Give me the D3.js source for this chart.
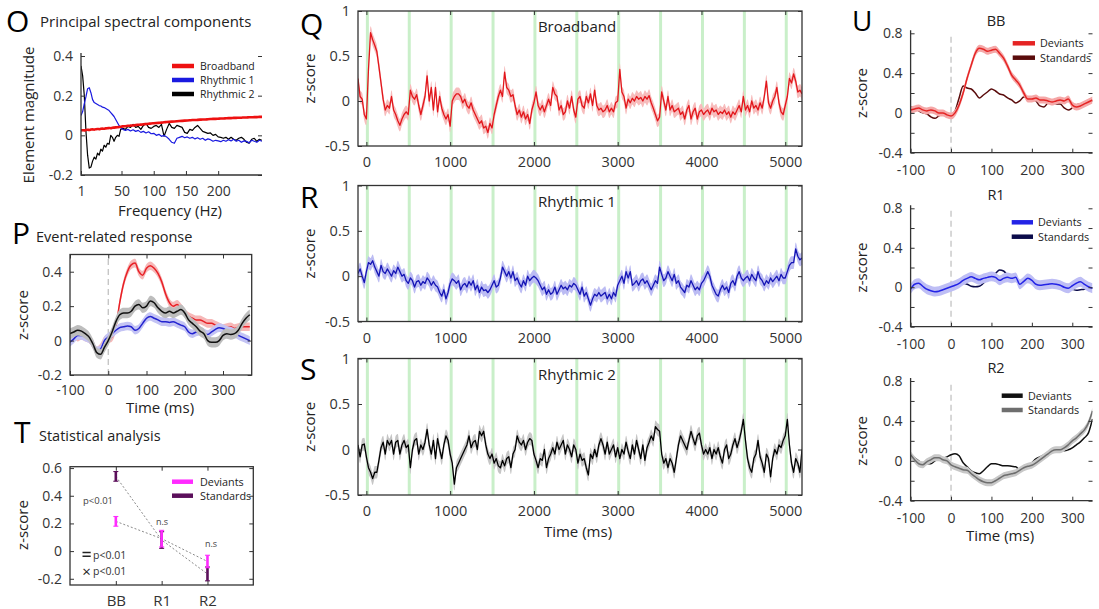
<!DOCTYPE html>
<html>
<head>
<meta charset="UTF-8">
<title>Principal spectral components</title>
<style>
  body { margin: 0; background: #fff; }
  svg { display: block; font-family: "Open Sans", sans-serif; }
</style>
</head>
<body>
<svg id="fig" width="1099" height="609"></svg>
<script src="https://d3js.org/d3.v7.min.js"></script>
<script>
// ---------- data ----------

// O: spectral weights of the three components
const freqs = d3.range(1, 50, 2).concat(d3.range(52, 269, 4));
const pcBroadband = [
  0.025,0.026,0.025,0.027,0.028,0.027,0.029,0.03,0.029,0.031,0.032,0.031,0.033,0.034,0.033,0.035,0.036,0.037,0.036,0.038,0.039,0.04,0.041,0.042,0.043,
  0.045,0.046,0.048,0.049,0.05,0.052,0.053,0.054,0.056,0.057,0.058,0.06,0.061,0.062,0.063,0.064,0.066,0.067,0.068,0.069,
  0.07,0.071,0.072,0.073,0.074,0.075,0.076,0.077,0.077,0.078,0.079,0.08,0.08,0.081,0.082,0.083,0.083,0.084,0.085,0.085,
  0.086,0.087,0.087,0.088,0.088,0.089,0.089,0.09,0.09,0.091,0.091,0.092,0.092,0.093,0.093];
const pcRhythmic1 = [
  0.10,0.12,0.16,0.195,0.235,0.24,0.215,0.18,0.165,0.16,0.155,0.15,0.148,0.142,0.14,0.135,0.13,0.125,0.115,0.105,0.095,0.08,0.065,0.05,0.038,
  0.03,0.025,0.03,0.022,0.028,0.02,0.025,0.015,0.02,0.012,0.018,0.008,0.01,0.0,0.005,-0.005,0.0,-0.008,-0.02,-0.035,
  -0.04,-0.015,-0.01,-0.005,-0.012,-0.008,-0.015,-0.01,-0.018,-0.012,-0.02,-0.015,-0.025,-0.018,-0.022,-0.03,-0.025,-0.028,-0.032,-0.025,
  -0.03,-0.022,-0.028,-0.02,-0.03,-0.025,-0.035,-0.028,-0.03,-0.038,-0.025,-0.03,-0.035,-0.025,-0.03];
const pcRhythmic2 = [
  0.35,0.3,0.2,0.02,-0.1,-0.165,-0.16,-0.13,-0.11,-0.12,-0.09,-0.1,-0.07,-0.08,-0.05,-0.06,-0.04,-0.045,0.0,-0.01,-0.03,-0.01,0.0,-0.005,0.03,
  0.035,0.03,0.045,0.04,0.055,0.04,0.045,0.03,0.05,0.06,0.04,0.035,0.045,0.05,0.04,0.055,-0.005,0.03,0.06,0.04,
  0.035,0.05,0.045,0.04,0.015,0.01,0.03,0.025,0.04,0.05,0.035,0.02,0.015,0.01,0.012,0.0,0.005,-0.008,-0.01,-0.015,
  -0.01,-0.02,-0.01,-0.02,-0.025,-0.015,-0.01,-0.02,-0.035,-0.04,-0.02,-0.015,-0.03,-0.02,-0.025];
const pcNames = ["Broadband", "Rhythmic 1", "Rhythmic 2"];

// P: event-related response, 10 ms steps from -100 ms
const erpTime = d3.range(-100, 371, 10);
const erpBroadband = [
  0.03,0.04,0.02,0.03,0.02,0.01,-0.02,-0.06,-0.04,0.0,
  0.01,0.02,0.08,0.22,0.33,0.4,0.44,0.45,0.4,0.38,
  0.42,0.435,0.42,0.39,0.34,0.27,0.22,0.2,0.21,0.19,
  0.16,0.14,0.13,0.12,0.12,0.11,0.1,0.1,0.09,0.08,
  0.07,0.075,0.08,0.07,0.075,0.08,0.08,0.08];
const erpRhythmic1 = [
  -0.01,0.01,0.03,0.03,0.02,0.01,-0.02,-0.06,-0.05,0.0,
  0.02,0.04,0.06,0.075,0.08,0.085,0.08,0.06,0.07,0.1,
  0.13,0.14,0.13,0.12,0.11,0.11,0.105,0.11,0.1,0.09,
  0.08,0.05,0.04,0.05,0.055,0.045,0.035,0.05,0.065,0.075,
  0.07,0.06,0.055,0.045,0.03,0.02,0.01,0.0];
const erpRhythmic2 = [
  0.04,0.05,0.06,0.055,0.04,0.02,-0.02,-0.07,-0.08,-0.04,
  0.0,0.05,0.11,0.15,0.16,0.16,0.17,0.2,0.21,0.19,
  0.2,0.23,0.22,0.19,0.17,0.16,0.17,0.16,0.17,0.18,
  0.16,0.12,0.1,0.08,0.055,0.04,0.0,-0.01,-0.01,0.0,
  0.03,0.04,0.035,0.04,0.06,0.1,0.13,0.15];

// T: statistical analysis
const compNames = ["BB", "R1", "R2"];
const devMean = [0.215, 0.09, -0.075];
const devErr = [0.035, 0.06, 0.045];
const stdMean = [0.54, 0.08, -0.165];
const stdErr = [0.035, 0.06, 0.05];

// Q, R, S: single trial time courses, 25 ms steps from -100 ms
const trialStart = -100, trialStep = 25;
const trialBroadband = [
  0.25,0.05,0.02,-0.15,-0.2,0.35,0.76,0.68,0.62,0.55,
  0.38,0.2,0.02,-0.1,-0.05,-0.08,0.05,-0.1,-0.15,-0.22,
  -0.27,-0.2,-0.15,-0.12,-0.15,0.12,0.05,0.02,0.07,-0.05,
  -0.15,-0.05,0.05,0.28,0.0,0.15,-0.1,0.15,-0.12,0.05,
  -0.08,-0.15,-0.2,-0.15,-0.28,0.0,0.05,0.08,0.08,0.05,
  -0.02,0.02,-0.05,-0.08,-0.02,-0.1,-0.15,-0.2,-0.25,-0.22,
  -0.3,-0.28,-0.35,-0.25,-0.3,-0.15,-0.05,0.05,0.12,0.05,
  0.32,0.15,0.12,0.05,0.07,-0.05,-0.15,-0.1,-0.18,-0.12,
  -0.2,-0.15,-0.25,-0.1,-0.02,0.1,-0.05,-0.1,-0.05,-0.12,
  -0.05,0.02,-0.05,0.15,0.08,0.05,-0.1,-0.05,-0.15,-0.12,
  0.0,-0.08,0.05,-0.1,-0.18,0.02,0.05,-0.05,-0.08,0.05,
  -0.02,0.08,-0.05,0.12,-0.05,-0.1,-0.08,-0.12,-0.1,-0.05,
  -0.12,-0.08,-0.12,-0.02,0.0,0.35,0.1,0.05,-0.08,0.02,
  -0.02,0.03,0.0,0.05,0.02,0.04,0.0,0.05,0.02,0.06,
  -0.02,-0.08,-0.15,-0.22,-0.18,0.1,0.0,-0.1,0.05,-0.1,
  -0.05,-0.12,-0.1,-0.08,-0.15,-0.12,-0.2,-0.1,-0.05,-0.2,
  -0.12,-0.08,-0.2,-0.12,-0.1,-0.15,-0.12,-0.1,-0.15,-0.08,
  -0.12,-0.1,-0.15,-0.12,-0.14,-0.1,-0.15,-0.12,-0.18,-0.12,
  -0.15,-0.1,-0.05,-0.12,0.05,-0.1,-0.05,-0.12,0.0,-0.08,
  -0.05,-0.1,-0.02,-0.08,0.05,0.22,-0.02,-0.08,0.0,0.05,
  0.15,-0.02,-0.12,-0.15,-0.05,0.05,0.25,0.2,0.3,0.22,
  0.1,0.12,0.08];
const trialRhythmic1 = [
  0.03,0.08,0.0,-0.07,0.05,0.15,0.13,0.17,0.1,0.05,
  0.0,0.12,0.05,0.03,0.08,0.04,0.0,0.06,0.03,0.1,
  0.05,0.0,0.02,-0.05,-0.08,-0.02,-0.05,-0.12,-0.06,-0.05,
  -0.1,-0.06,-0.08,-0.02,-0.05,-0.1,-0.06,-0.1,-0.12,-0.18,
  -0.22,-0.15,-0.25,-0.18,-0.08,-0.03,-0.05,-0.08,-0.05,-0.15,
  -0.1,-0.08,-0.12,-0.06,-0.1,-0.05,-0.15,-0.1,-0.18,-0.12,
  -0.16,-0.15,-0.18,-0.15,-0.1,-0.05,-0.12,-0.1,-0.02,0.1,
  0.05,0.0,0.05,-0.02,0.05,-0.05,-0.02,-0.08,-0.12,-0.05,
  -0.1,0.0,-0.05,-0.02,0.0,-0.02,-0.05,-0.1,-0.15,-0.12,
  -0.2,-0.15,-0.2,-0.18,-0.12,-0.2,-0.15,-0.1,-0.14,-0.12,
  -0.15,-0.1,-0.12,-0.08,-0.1,-0.15,-0.2,-0.12,-0.22,-0.18,
  -0.25,-0.32,-0.25,-0.2,-0.22,-0.18,-0.22,-0.2,-0.18,-0.25,
  -0.2,-0.25,-0.18,-0.22,-0.1,-0.05,0.0,-0.08,0.05,-0.02,
  0.05,-0.1,-0.08,-0.05,-0.1,-0.05,-0.03,-0.08,-0.05,-0.1,
  -0.15,-0.1,-0.05,-0.08,0.1,0.02,-0.05,-0.02,0.05,0.0,
  -0.05,0.02,-0.08,-0.05,-0.12,-0.15,-0.18,-0.1,-0.12,-0.05,
  -0.1,-0.15,-0.12,-0.15,-0.08,-0.05,0.0,0.05,0.0,-0.1,
  -0.15,-0.2,-0.22,-0.15,-0.1,-0.15,-0.12,-0.18,-0.08,-0.05,
  -0.1,0.0,0.05,-0.02,-0.05,-0.02,0.0,-0.05,0.02,-0.02,
  -0.05,0.05,-0.02,-0.05,-0.1,-0.05,-0.08,-0.02,-0.06,-0.03,
  0.0,-0.05,0.02,-0.02,-0.02,0.05,0.12,0.15,0.15,0.3,
  0.22,0.18,0.2];
const trialRhythmic2 = [
  0.05,-0.08,0.05,0.06,-0.08,-0.2,-0.25,-0.32,-0.25,-0.25,
  -0.12,0.02,0.08,-0.05,0.1,0.05,0.1,-0.05,0.08,0.1,
  -0.05,0.05,0.1,0.02,0.05,-0.2,0.0,0.1,0.12,-0.05,
  0.05,0.0,0.08,0.22,0.05,-0.05,0.1,-0.1,0.12,0.0,
  -0.1,0.05,0.15,0.1,-0.05,-0.15,-0.38,-0.2,-0.15,-0.1,
  -0.05,0.0,0.05,0.15,0.02,0.08,0.1,0.0,0.2,0.15,
  0.2,0.05,-0.05,-0.1,-0.05,-0.15,-0.1,-0.18,-0.2,-0.12,
  -0.18,-0.1,-0.08,-0.2,-0.05,0.0,0.15,0.08,0.05,0.1,
  0.0,0.08,0.12,0.1,-0.05,-0.12,-0.2,-0.1,-0.12,0.0,
  -0.2,-0.1,-0.05,0.02,-0.05,0.08,0.0,0.05,0.1,-0.05,
  0.05,0.0,-0.08,0.05,0.0,-0.15,-0.05,-0.12,-0.1,-0.2,
  -0.28,-0.05,-0.1,0.0,-0.08,0.05,0.12,0.05,-0.05,0.08,
  -0.05,0.0,0.05,-0.08,0.02,-0.1,0.0,-0.05,0.08,-0.02,
  -0.1,0.05,-0.05,0.1,0.0,-0.1,0.05,-0.12,0.02,0.08,
  0.15,0.1,0.25,0.22,0.2,-0.05,-0.15,-0.1,-0.2,-0.1,
  -0.15,-0.25,-0.1,0.05,0.15,0.1,0.05,0.0,0.1,0.2,
  0.12,0.05,0.15,0.18,0.05,-0.05,0.0,-0.05,0.02,-0.1,
  0.0,-0.05,0.02,-0.08,-0.15,0.0,0.05,-0.1,-0.05,0.05,
  0.12,0.02,0.1,0.2,0.33,0.1,-0.1,-0.2,-0.25,-0.1,
  -0.05,0.1,-0.08,-0.15,-0.25,-0.05,-0.1,-0.3,-0.1,0.0,
  -0.05,0.05,0.02,0.1,0.15,0.33,0.05,-0.15,-0.25,-0.1,
  -0.15,-0.25,0.0];
const toneOnsets = d3.range(0, 5001, 500);

// U: deviants vs standards, 10 ms steps from -100 ms
const condTime = d3.range(-100, 351, 10);
const bbDeviants = [
  0.03,0.04,0.05,0.03,0.02,0.03,0.02,0.0,0.0,-0.02,
  -0.03,0.0,0.08,0.2,0.35,0.48,0.6,0.65,0.64,0.62,
  0.63,0.64,0.6,0.55,0.47,0.38,0.33,0.28,0.2,0.14,
  0.14,0.15,0.13,0.13,0.12,0.11,0.12,0.13,0.12,0.14,
  0.08,0.06,0.07,0.09,0.11,0.13];
const bbStandards = [
  0.06,0.05,0.02,0.0,-0.01,-0.04,-0.055,-0.03,-0.01,-0.02,
  -0.02,0.02,0.15,0.27,0.25,0.24,0.2,0.15,0.18,0.21,
  0.24,0.22,0.19,0.18,0.15,0.13,0.1,0.12,0.16,0.15,
  0.14,0.12,0.07,0.06,0.1,0.11,0.09,0.09,0.05,0.03,
  0.05,0.08,0.09,0.1,0.11,0.12];
const r1Deviants = [
  -0.02,0.03,0.04,0.01,-0.02,-0.035,-0.045,-0.04,-0.025,-0.01,
  0.005,0.02,0.04,0.07,0.09,0.105,0.09,0.075,0.09,0.1,
  0.11,0.1,0.07,0.09,0.1,0.09,0.1,0.03,0.06,0.09,
  0.07,0.03,0.02,0.025,0.03,0.035,0.03,0.02,0.0,-0.01,
  0.015,0.04,0.055,0.03,0.005,-0.01];
const r1Standards = [
  -0.01,0.04,0.055,0.0,-0.04,-0.07,-0.075,-0.05,-0.03,-0.01,
  0.005,0.02,0.03,0.04,0.03,0.01,0.005,0.01,0.04,0.08,
  0.11,0.14,0.175,0.165,0.12,0.1,0.09,0.04,0.06,0.08,
  0.06,0.04,0.03,0.03,0.025,0.03,0.02,0.015,0.0,-0.01,
  -0.02,-0.03,-0.025,-0.02,-0.01,-0.01];
const r2Deviants = [
  0.06,0.03,0.0,-0.03,-0.03,-0.03,0.0,0.01,0.02,0.04,
  0.06,0.07,0.05,-0.02,-0.06,-0.1,-0.12,-0.13,-0.1,-0.06,
  -0.03,-0.03,-0.04,-0.05,-0.05,-0.055,-0.06,-0.09,-0.07,-0.05,
  -0.02,0.02,0.04,0.06,0.08,0.1,0.11,0.12,0.1,0.11,
  0.13,0.16,0.19,0.23,0.28,0.42];
const r2Standards = [
  0.06,0.01,-0.03,-0.04,-0.01,0.01,0.03,0.03,0.01,0.0,
  -0.04,-0.06,-0.075,-0.09,-0.095,-0.13,-0.16,-0.19,-0.21,-0.22,
  -0.22,-0.2,-0.175,-0.15,-0.14,-0.13,-0.12,-0.095,-0.07,-0.055,
  -0.045,-0.02,0.01,0.04,0.07,0.1,0.11,0.11,0.13,0.16,
  0.2,0.23,0.27,0.31,0.38,0.5];
const condNames = ["Deviants", "Standards"];

// ---------- helpers ----------

const svg = d3.select("#fig");
const ink = "#333";
let clipId = 0;

function txt(s, x, y, size, opts = {}) {
  const t = svg.append("text")
    .attr("x", x).attr("y", y)
    .attr("font-size", size)
    .attr("fill", opts.fill || "#222")
    .attr("text-anchor", opts.anchor || "start")
    .text(s);
  if (opts.rotate) t.attr("transform", `rotate(-90,${x},${y})`);
  return t;
}

// axes with inward ticks, MATLAB style
function frame(x, y, o) {
  const xr = x.range(), yr = y.range();
  const L = xr[0], R = xr[xr.length - 1], B = yr[0], T = yr[yr.length - 1];
  const g = svg.append("g").attr("color", ink);
  const xf = o.xFormat || (d => String(d));
  const yl = o.yLabels || o.yTicks;

  g.append("g").attr("transform", `translate(0,${B})`)
    .call(d3.axisBottom(x).tickValues(o.xTicks).tickFormat(xf)
      .tickSizeInner(-4).tickSizeOuter(0).tickPadding(o.xPad))
    .call(a => a.select(".domain").remove())
    .attr("font-family", null)
    .selectAll("text").attr("font-size", o.xfs || o.fs).attr("fill", ink);

  g.append("g").attr("transform", `translate(${L},0)`)
    .call(d3.axisLeft(y).tickValues(o.yTicks)
      .tickFormat(d => yl.includes(d) ? String(d) : "")
      .tickSizeInner(-4).tickSizeOuter(0).tickPadding(8))
    .call(a => a.select(".domain").remove())
    .attr("font-family", null)
    .selectAll("text").attr("font-size", o.fs).attr("fill", ink);

  g.append("g").attr("transform", `translate(${R},0)`)
    .call(d3.axisRight(y).tickValues(o.yTicks).tickFormat("").tickSizeInner(-4).tickSizeOuter(0))
    .call(a => a.select(".domain").remove());

  if (!o.open) {
    g.append("g").attr("transform", `translate(0,${T})`)
      .call(d3.axisTop(x).tickValues(o.xTicks).tickFormat("").tickSizeInner(-4).tickSizeOuter(0))
      .call(a => a.select(".domain").remove());
    g.append("rect")
      .attr("x", L).attr("y", T).attr("width", R - L).attr("height", B - T)
      .attr("fill", "none").attr("stroke", ink).attr("stroke-width", 1.3);
  } else {
    g.append("path")
      .attr("d", `M${L},${T - 3}V${B}H${R}`)
      .attr("fill", "none").attr("stroke", ink).attr("stroke-width", 1.3);
  }
}

function clipFor(x, y) {
  const xr = x.range(), yr = y.range();
  const id = "clip" + (clipId++);
  svg.append("clipPath").attr("id", id)
    .append("rect")
    .attr("x", xr[0]).attr("y", yr[yr.length - 1])
    .attr("width", xr[xr.length - 1] - xr[0])
    .attr("height", yr[0] - yr[yr.length - 1]);
  return svg.append("g").attr("clip-path", `url(#${id})`);
}

function band(g, x, y, xs, vs, half, fill) {
  g.append("path")
    .datum(d3.zip(xs, vs))
    .attr("fill", fill)
    .attr("d", d3.area()
      .x(d => x(d[0]))
      .y0(d => y(d[1] - half))
      .y1(d => y(d[1] + half))
      .curve(d3.curveMonotoneX));
}

function trace(g, x, y, xs, vs, color, width, curve) {
  g.append("path")
    .datum(d3.zip(xs, vs))
    .attr("fill", "none")
    .attr("stroke", color)
    .attr("stroke-width", width)
    .attr("stroke-linejoin", "round")
    .attr("d", d3.line()
      .x(d => x(d[0]))
      .y(d => y(d[1]))
      .curve(curve || d3.curveLinear));
}

function zeroLine(g, x, y) {
  const yr = y.range();
  g.append("line")
    .attr("x1", x(0)).attr("x2", x(0))
    .attr("y1", yr[0]).attr("y2", yr[yr.length - 1])
    .attr("stroke", "#bdbdbd").attr("stroke-width", 1.2)
    .attr("stroke-dasharray", "6,4");
}

function legend(names, colors, x0, x1, tx, ys, fs) {
  names.forEach((n, i) => {
    svg.append("line")
      .attr("x1", x0).attr("x2", x1).attr("y1", ys[i]).attr("y2", ys[i])
      .attr("stroke", colors[i]).attr("stroke-width", 4.5);
    txt(n, tx, ys[i] + fs * 0.36, fs);
  });
}

// ---------- O: principal spectral components ----------

txt("O", 6, 32, 30, { fill: "#000" });
txt("Principal spectral components", 40, 27, 15);

const xO = d3.scaleLinear().domain([1, 50, 268]).range([81, 121.5, 262]);
const yO = d3.scaleLinear().domain([-0.2, 0.4]).range([175, 56]);
const gO = clipFor(xO, yO);
trace(gO, xO, yO, freqs, pcRhythmic2, "#000", 1.2);
trace(gO, xO, yO, freqs, pcRhythmic1, "#1a1ae0", 1.2);
trace(gO, xO, yO, freqs, pcBroadband, "#ee1111", 2.6, d3.curveMonotoneX);
frame(xO, yO, { xTicks: [1, 50, 100, 150, 200], yTicks: [-0.2, 0, 0.2, 0.4], fs: 14, xPad: 11, open: true });
legend(pcNames, ["#ee1111", "#1a1ae0", "#000"], 172, 194, 200, [66, 80, 94], 10.5);
txt("Element magnitude", 34, 115, 15, { anchor: "middle", rotate: true });
txt("Frequency (Hz)", 170, 216, 15, { anchor: "middle" });

// ---------- P: event-related response ----------

txt("P", 12, 244, 30, { fill: "#000" });
txt("Event-related response", 36, 242, 14.5);

const xP = d3.scaleLinear().domain([-100, 375]).range([70, 251.7]);
const yP = d3.scaleLinear().domain([-0.2, 0.5]).range([375, 254.5]);
const gP = clipFor(xP, yP);
zeroLine(gP, xP, yP);
band(gP, xP, yP, erpTime, erpBroadband, 0.025, "#f6b8b8");
trace(gP, xP, yP, erpTime, erpBroadband, "#e82026", 1.5, d3.curveMonotoneX);
band(gP, xP, yP, erpTime, erpRhythmic1, 0.025, "#c4c4f4");
trace(gP, xP, yP, erpTime, erpRhythmic1, "#2424d0", 1.5, d3.curveMonotoneX);
band(gP, xP, yP, erpTime, erpRhythmic2, 0.03, "#bdbdbd");
trace(gP, xP, yP, erpTime, erpRhythmic2, "#111", 1.5, d3.curveMonotoneX);
frame(xP, yP, { xTicks: [-100, 0, 100, 200, 300], yTicks: [-0.2, 0, 0.2, 0.4], fs: 14, xPad: 10 });
txt("z-score", 28, 315, 15, { anchor: "middle", rotate: true });
txt("Time (ms)", 160, 413, 15, { anchor: "middle" });

// ---------- T: statistical analysis ----------

txt("T", 14, 443, 30, { fill: "#000" });
txt("Statistical analysis", 39, 441, 14.5);

const xT = d3.scaleLinear().domain([0, 4]).range([70, 253.3]);
const yT = d3.scaleLinear().domain([-0.245, 0.61]).range([585, 466.7]);
const magenta = "#ff2bff", plum = "#5b0f5b";

[stdMean, devMean].forEach(m => {
  svg.append("path")
    .datum(m)
    .attr("fill", "none").attr("stroke", "#8a8a8a").attr("stroke-width", 1)
    .attr("stroke-dasharray", "2,2")
    .attr("d", d3.line().x((d, i) => xT(i + 1)).y(d => yT(d)));
});

function errBars(means, errs, color) {
  means.forEach((m, i) => {
    const cx = xT(i + 1);
    svg.append("line")
      .attr("x1", cx).attr("x2", cx)
      .attr("y1", yT(m - errs[i])).attr("y2", yT(m + errs[i]))
      .attr("stroke", color).attr("stroke-width", 2.6);
    [m - errs[i], m + errs[i]].forEach(v => {
      svg.append("line")
        .attr("x1", cx - 2.5).attr("x2", cx + 2.5)
        .attr("y1", yT(v)).attr("y2", yT(v))
        .attr("stroke", color).attr("stroke-width", 1.1);
    });
  });
}
errBars(stdMean, stdErr, plum);
errBars(devMean, devErr, magenta);

frame(xT, yT, {
  xTicks: [1, 2, 3], xFormat: d => compNames[d - 1],
  yTicks: [-0.2, 0, 0.2, 0.4, 0.6], fs: 14, xfs: 15, xPad: 10
});
legend(condNames, [magenta, plum], 172, 193, 200, [481.7, 495.7], 10.8);
txt("z-score", 28, 525, 15, { anchor: "middle", rotate: true });
txt("p<0.01", 83, 504, 9.5, { fill: "#444" });
txt("n.s", 162, 525, 9, { fill: "#444", anchor: "middle" });
txt("n.s", 211, 547, 9, { fill: "#444", anchor: "middle" });
// key: parallel lines and a cross
svg.append("path")
  .attr("d", "M82.5,552.6H90.7M82.5,556.2H90.7")
  .attr("stroke", "#222").attr("stroke-width", 1.5);
txt("p<0.01", 93, 558.5, 10.5, { fill: "#333" });
txt("\u00d7", 86.5, 576.5, 15, { anchor: "middle", fill: "#222" });
txt("p<0.01", 93, 575, 10.5, { fill: "#333" });

// ---------- Q, R, S: single trial responses ----------

const xQ = d3.scaleLinear().domain([-100, 5200]).range([358, 802]);
const trialPanels = [
  { letter: "Q", ly: 35, title: "Broadband", values: trialBroadband, top: 11, bottom: 146,
    line: "#e2161b", fill: "#f7bcbc", half: 0.07 },
  { letter: "R", ly: 208, title: "Rhythmic 1", values: trialRhythmic1, top: 185.5, bottom: 321.5,
    line: "#1414b4", fill: "#bcbcf3", half: 0.07 },
  { letter: "S", ly: 380, title: "Rhythmic 2", values: trialRhythmic2, top: 358.5, bottom: 495,
    line: "#000", fill: "#c6c6c6", half: 0.07 }
];

trialPanels.forEach(p => {
  const y = d3.scaleLinear().domain([-0.5, 1]).range([p.bottom, p.top]);
  const times = p.values.map((d, i) => trialStart + i * trialStep);
  const g = clipFor(xQ, y);
  g.selectAll("line.onset")
    .data(toneOnsets)
    .join("line")
    .attr("class", "onset")
    .attr("x1", d => xQ(d) + 1).attr("x2", d => xQ(d) + 1)
    .attr("y1", p.top).attr("y2", p.bottom)
    .attr("stroke", "#c9efc9").attr("stroke-width", 3);
  band(g, xQ, y, times, p.values, p.half, p.fill);
  trace(g, xQ, y, times, p.values, p.line, 1.3);
  frame(xQ, y, { xTicks: [0, 1000, 2000, 3000, 4000, 5000], yTicks: [-0.5, 0, 0.5, 1], fs: 14.5, xPad: 11 });
  txt(p.title, 577, p.top + 21, 15, { anchor: "middle" });
  txt(p.letter, 300, p.ly, 30, { fill: "#000" });
  txt("z-score", 315, (p.top + p.bottom) / 2, 15, { anchor: "middle", rotate: true });
});
txt("Time (ms)", 578, 537, 15, { anchor: "middle" });

// ---------- U: deviants vs standards ----------

txt("U", 852, 31, 28, { fill: "#000" });
const xU = d3.scaleLinear().domain([-100, 350]).range([910.6, 1092.5]);
const condPanels = [
  { title: "BB", ty: 26, top: 33.3, bottom: 152.7, dev: bbDeviants, std: bbStandards,
    devColor: "#e52424", stdColor: "#5a0c0c", fill: "#f5a8a8", half: 0.035, bandOnStd: false,
    lx: [1012.7, 1035, 1040], ly: [43.3, 57.7] },
  { title: "R1", ty: 200, top: 208.3, bottom: 326.7, dev: r1Deviants, std: r1Standards,
    devColor: "#2323e6", stdColor: "#0b0b4a", fill: "#bebef5", half: 0.05, bandOnStd: false,
    lx: [1011.7, 1033, 1038], ly: [222.3, 236.7] },
  { title: "R2", ty: 373, top: 381, bottom: 500.7, dev: r2Deviants, std: r2Standards,
    devColor: "#111", stdColor: "#6e6e6e", fill: "#c8c8c8", half: 0.035, bandOnStd: true,
    lx: [1001.7, 1022.7, 1028], ly: [395.7, 410] }
];

condPanels.forEach(p => {
  const y = d3.scaleLinear().domain([-0.4, 0.8]).range([p.bottom, p.top]);
  const g = clipFor(xU, y);
  zeroLine(g, xU, y);
  if (p.bandOnStd) {
    trace(g, xU, y, condTime, p.dev, p.devColor, 1.5, d3.curveMonotoneX);
    band(g, xU, y, condTime, p.std, p.half, p.fill);
    trace(g, xU, y, condTime, p.std, p.stdColor, 1.5, d3.curveMonotoneX);
  } else {
    trace(g, xU, y, condTime, p.std, p.stdColor, 1.5, d3.curveMonotoneX);
    band(g, xU, y, condTime, p.dev, p.half, p.fill);
    trace(g, xU, y, condTime, p.dev, p.devColor, 1.5, d3.curveMonotoneX);
  }
  frame(xU, y, {
    xTicks: [-100, 0, 100, 200, 300], yTicks: [-0.4, -0.2, 0, 0.2, 0.4, 0.6, 0.8],
    yLabels: [-0.4, 0, 0.4, 0.8], fs: 14, xPad: 12, open: true
  });
  txt(p.title, 996, p.ty, 14.5, { anchor: "middle" });
  txt("z-score", 867, (p.top + p.bottom) / 2, 15, { anchor: "middle", rotate: true });
  legend(condNames, [p.devColor, p.stdColor], p.lx[0], p.lx[1], p.lx[2], p.ly, 10.8);
});
txt("Time (ms)", 1000, 541, 15, { anchor: "middle" });
</script>
</body>
</html>
